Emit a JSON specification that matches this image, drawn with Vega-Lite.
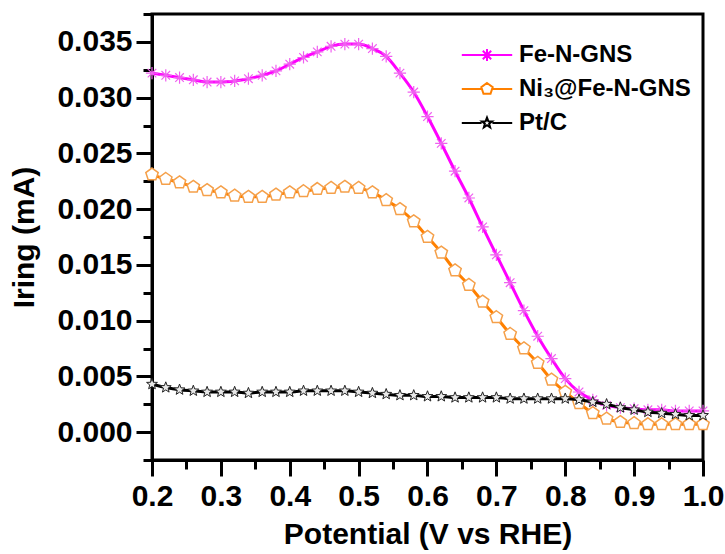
{
  "$schema": "https://vega.github.io/schema/vega-lite/v6.json",
  "autosize": "none",
  "padding": {"left": 152, "top": 14, "right": 22, "bottom": 94},
  "width": 551,
  "height": 446,
  "config": {
    "view": {"stroke": "black", "strokeWidth": 3},
    "axis": {
      "grid": false,
      "domainColor": "black",
      "domainWidth": 3,
      "tickColor": "black",
      "tickWidth": 3,
      "labelFont": "Liberation Sans",
      "labelFontWeight": "bold",
      "labelFontSize": 30,
      "labelColor": "black",
      "titleFont": "Liberation Sans",
      "titleFontWeight": "bold",
      "titleFontSize": 30,
      "titleColor": "black"
    },
    "legend": {
      "labelFont": "Liberation Sans",
      "labelFontWeight": "bold",
      "labelFontSize": 24,
      "labelColor": "black",
      "labelLimit": 400
    }
  },
  "datasets": {
    "d": [
      {"potential":0.20,"current":0.0322,"sample":"Fe-N-GNS"},
      {"potential":0.22,"current":0.0320,"sample":"Fe-N-GNS"},
      {"potential":0.24,"current":0.0318,"sample":"Fe-N-GNS"},
      {"potential":0.26,"current":0.0316,"sample":"Fe-N-GNS"},
      {"potential":0.28,"current":0.0314,"sample":"Fe-N-GNS"},
      {"potential":0.30,"current":0.0314,"sample":"Fe-N-GNS"},
      {"potential":0.32,"current":0.0315,"sample":"Fe-N-GNS"},
      {"potential":0.34,"current":0.0317,"sample":"Fe-N-GNS"},
      {"potential":0.36,"current":0.0320,"sample":"Fe-N-GNS"},
      {"potential":0.38,"current":0.0324,"sample":"Fe-N-GNS"},
      {"potential":0.40,"current":0.0330,"sample":"Fe-N-GNS"},
      {"potential":0.42,"current":0.0336,"sample":"Fe-N-GNS"},
      {"potential":0.44,"current":0.0341,"sample":"Fe-N-GNS"},
      {"potential":0.46,"current":0.0346,"sample":"Fe-N-GNS"},
      {"potential":0.48,"current":0.0348,"sample":"Fe-N-GNS"},
      {"potential":0.50,"current":0.0348,"sample":"Fe-N-GNS"},
      {"potential":0.52,"current":0.0344,"sample":"Fe-N-GNS"},
      {"potential":0.54,"current":0.0337,"sample":"Fe-N-GNS"},
      {"potential":0.56,"current":0.0322,"sample":"Fe-N-GNS"},
      {"potential":0.58,"current":0.0305,"sample":"Fe-N-GNS"},
      {"potential":0.60,"current":0.0283,"sample":"Fe-N-GNS"},
      {"potential":0.62,"current":0.0259,"sample":"Fe-N-GNS"},
      {"potential":0.64,"current":0.0234,"sample":"Fe-N-GNS"},
      {"potential":0.66,"current":0.0210,"sample":"Fe-N-GNS"},
      {"potential":0.68,"current":0.0184,"sample":"Fe-N-GNS"},
      {"potential":0.70,"current":0.0159,"sample":"Fe-N-GNS"},
      {"potential":0.72,"current":0.0134,"sample":"Fe-N-GNS"},
      {"potential":0.74,"current":0.0109,"sample":"Fe-N-GNS"},
      {"potential":0.76,"current":0.0086,"sample":"Fe-N-GNS"},
      {"potential":0.78,"current":0.0066,"sample":"Fe-N-GNS"},
      {"potential":0.80,"current":0.0048,"sample":"Fe-N-GNS"},
      {"potential":0.82,"current":0.0036,"sample":"Fe-N-GNS"},
      {"potential":0.84,"current":0.0029,"sample":"Fe-N-GNS"},
      {"potential":0.86,"current":0.0024,"sample":"Fe-N-GNS"},
      {"potential":0.88,"current":0.0022,"sample":"Fe-N-GNS"},
      {"potential":0.90,"current":0.0021,"sample":"Fe-N-GNS"},
      {"potential":0.92,"current":0.0020,"sample":"Fe-N-GNS"},
      {"potential":0.94,"current":0.0020,"sample":"Fe-N-GNS"},
      {"potential":0.96,"current":0.0019,"sample":"Fe-N-GNS"},
      {"potential":0.98,"current":0.0019,"sample":"Fe-N-GNS"},
      {"potential":1.00,"current":0.0019,"sample":"Fe-N-GNS"},
      {"potential":0.20,"current":0.0231,"sample":"Ni₃@Fe-N-GNS"},
      {"potential":0.22,"current":0.0227,"sample":"Ni₃@Fe-N-GNS"},
      {"potential":0.24,"current":0.0224,"sample":"Ni₃@Fe-N-GNS"},
      {"potential":0.26,"current":0.0220,"sample":"Ni₃@Fe-N-GNS"},
      {"potential":0.28,"current":0.0217,"sample":"Ni₃@Fe-N-GNS"},
      {"potential":0.30,"current":0.0215,"sample":"Ni₃@Fe-N-GNS"},
      {"potential":0.32,"current":0.0212,"sample":"Ni₃@Fe-N-GNS"},
      {"potential":0.34,"current":0.0211,"sample":"Ni₃@Fe-N-GNS"},
      {"potential":0.36,"current":0.0211,"sample":"Ni₃@Fe-N-GNS"},
      {"potential":0.38,"current":0.0213,"sample":"Ni₃@Fe-N-GNS"},
      {"potential":0.40,"current":0.0215,"sample":"Ni₃@Fe-N-GNS"},
      {"potential":0.42,"current":0.0216,"sample":"Ni₃@Fe-N-GNS"},
      {"potential":0.44,"current":0.0218,"sample":"Ni₃@Fe-N-GNS"},
      {"potential":0.46,"current":0.0219,"sample":"Ni₃@Fe-N-GNS"},
      {"potential":0.48,"current":0.0220,"sample":"Ni₃@Fe-N-GNS"},
      {"potential":0.50,"current":0.0219,"sample":"Ni₃@Fe-N-GNS"},
      {"potential":0.52,"current":0.0215,"sample":"Ni₃@Fe-N-GNS"},
      {"potential":0.54,"current":0.0208,"sample":"Ni₃@Fe-N-GNS"},
      {"potential":0.56,"current":0.0200,"sample":"Ni₃@Fe-N-GNS"},
      {"potential":0.58,"current":0.0189,"sample":"Ni₃@Fe-N-GNS"},
      {"potential":0.60,"current":0.0175,"sample":"Ni₃@Fe-N-GNS"},
      {"potential":0.62,"current":0.0161,"sample":"Ni₃@Fe-N-GNS"},
      {"potential":0.64,"current":0.0145,"sample":"Ni₃@Fe-N-GNS"},
      {"potential":0.66,"current":0.0132,"sample":"Ni₃@Fe-N-GNS"},
      {"potential":0.68,"current":0.0117,"sample":"Ni₃@Fe-N-GNS"},
      {"potential":0.70,"current":0.0103,"sample":"Ni₃@Fe-N-GNS"},
      {"potential":0.72,"current":0.0088,"sample":"Ni₃@Fe-N-GNS"},
      {"potential":0.74,"current":0.0075,"sample":"Ni₃@Fe-N-GNS"},
      {"potential":0.76,"current":0.0062,"sample":"Ni₃@Fe-N-GNS"},
      {"potential":0.78,"current":0.0047,"sample":"Ni₃@Fe-N-GNS"},
      {"potential":0.80,"current":0.0036,"sample":"Ni₃@Fe-N-GNS"},
      {"potential":0.82,"current":0.0026,"sample":"Ni₃@Fe-N-GNS"},
      {"potential":0.84,"current":0.0017,"sample":"Ni₃@Fe-N-GNS"},
      {"potential":0.86,"current":0.0012,"sample":"Ni₃@Fe-N-GNS"},
      {"potential":0.88,"current":0.0009,"sample":"Ni₃@Fe-N-GNS"},
      {"potential":0.90,"current":0.0008,"sample":"Ni₃@Fe-N-GNS"},
      {"potential":0.92,"current":0.0007,"sample":"Ni₃@Fe-N-GNS"},
      {"potential":0.94,"current":0.0007,"sample":"Ni₃@Fe-N-GNS"},
      {"potential":0.96,"current":0.0007,"sample":"Ni₃@Fe-N-GNS"},
      {"potential":0.98,"current":0.0007,"sample":"Ni₃@Fe-N-GNS"},
      {"potential":1.00,"current":0.0007,"sample":"Ni₃@Fe-N-GNS"},
      {"potential":0.20,"current":0.0043,"sample":"Pt/C"},
      {"potential":0.22,"current":0.0040,"sample":"Pt/C"},
      {"potential":0.24,"current":0.0038,"sample":"Pt/C"},
      {"potential":0.26,"current":0.0037,"sample":"Pt/C"},
      {"potential":0.28,"current":0.0036,"sample":"Pt/C"},
      {"potential":0.30,"current":0.0036,"sample":"Pt/C"},
      {"potential":0.32,"current":0.0036,"sample":"Pt/C"},
      {"potential":0.34,"current":0.0035,"sample":"Pt/C"},
      {"potential":0.36,"current":0.0036,"sample":"Pt/C"},
      {"potential":0.38,"current":0.0036,"sample":"Pt/C"},
      {"potential":0.40,"current":0.0036,"sample":"Pt/C"},
      {"potential":0.42,"current":0.0037,"sample":"Pt/C"},
      {"potential":0.44,"current":0.0037,"sample":"Pt/C"},
      {"potential":0.46,"current":0.0037,"sample":"Pt/C"},
      {"potential":0.48,"current":0.0037,"sample":"Pt/C"},
      {"potential":0.50,"current":0.0036,"sample":"Pt/C"},
      {"potential":0.52,"current":0.0035,"sample":"Pt/C"},
      {"potential":0.54,"current":0.0034,"sample":"Pt/C"},
      {"potential":0.56,"current":0.0033,"sample":"Pt/C"},
      {"potential":0.58,"current":0.0033,"sample":"Pt/C"},
      {"potential":0.60,"current":0.0032,"sample":"Pt/C"},
      {"potential":0.62,"current":0.0032,"sample":"Pt/C"},
      {"potential":0.64,"current":0.0031,"sample":"Pt/C"},
      {"potential":0.66,"current":0.0031,"sample":"Pt/C"},
      {"potential":0.68,"current":0.0031,"sample":"Pt/C"},
      {"potential":0.70,"current":0.0031,"sample":"Pt/C"},
      {"potential":0.72,"current":0.0030,"sample":"Pt/C"},
      {"potential":0.74,"current":0.0030,"sample":"Pt/C"},
      {"potential":0.76,"current":0.0030,"sample":"Pt/C"},
      {"potential":0.78,"current":0.0030,"sample":"Pt/C"},
      {"potential":0.80,"current":0.0030,"sample":"Pt/C"},
      {"potential":0.82,"current":0.0029,"sample":"Pt/C"},
      {"potential":0.84,"current":0.0027,"sample":"Pt/C"},
      {"potential":0.86,"current":0.0025,"sample":"Pt/C"},
      {"potential":0.88,"current":0.0022,"sample":"Pt/C"},
      {"potential":0.90,"current":0.0020,"sample":"Pt/C"},
      {"potential":0.92,"current":0.0018,"sample":"Pt/C"},
      {"potential":0.94,"current":0.0017,"sample":"Pt/C"},
      {"potential":0.96,"current":0.0016,"sample":"Pt/C"},
      {"potential":0.98,"current":0.0015,"sample":"Pt/C"},
      {"potential":1.00,"current":0.0015,"sample":"Pt/C"}
    ]
  },
  "data": {"name": "d"},
  "encoding": {
    "x": {
      "field": "potential", "type": "quantitative",
      "scale": {"domain": [0.2, 1.0], "nice": false, "zero": false},
      "axis": {
        "title": "Potential (V vs RHE)",
        "values": [0.2,0.25,0.3,0.35,0.4,0.45,0.5,0.55,0.6,0.65,0.7,0.75,0.8,0.85,0.9,0.95,1.0],
        "labelExpr": "abs(datum.value*10 - round(datum.value*10)) < 0.001 ? format(datum.value, '.1f') : ''",
        "tickSize": {"condition": {"test": "abs(datum.value*10 - round(datum.value*10)) < 0.001", "value": 16}, "value": 9},
        "labelPadding": 5,
        "titlePadding": 8,
        "labelFlush": false,
        "labelOverlap": false
      }
    },
    "y": {
      "field": "current", "type": "quantitative",
      "scale": {"domain": [-0.0025, 0.0375], "nice": false, "zero": false},
      "axis": {
        "title": "Iring (mA)",
        "values": [-0.0025,0,0.0025,0.005,0.0075,0.01,0.0125,0.015,0.0175,0.02,0.0225,0.025,0.0275,0.03,0.0325,0.035,0.0375],
        "labelExpr": "(abs(datum.value*200 - round(datum.value*200)) < 0.001 && datum.value > -0.001 && datum.value < 0.036) ? format(datum.value, '.3f') : ''",
        "tickSize": {"condition": {"test": "abs(datum.value*200 - round(datum.value*200)) < 0.001", "value": 16}, "value": 9},
        "labelPadding": 4,
        "titlePadding": 17,
        "labelFlush": false,
        "labelOverlap": false
      }
    }
  },
  "layer": [
    {
      "transform": [{"filter": "datum.sample === 'Fe-N-GNS'"}],
      "mark": {"type": "line", "strokeWidth": 3, "interpolate": "monotone"},
      "encoding": {
        "color": {
          "field": "sample", "type": "nominal",
          "scale": {"domain": ["Fe-N-GNS", "Ni₃@Fe-N-GNS", "Pt/C"], "range": ["#FF00FF", "#FF8000", "#000000"]},
          "legend": {
            "title": null,
            "orient": "none",
            "legendX": 323,
            "legendY": 29,
            "padding": 0,
            "rowPadding": 10,
            "symbolSize": 144,
            "symbolStrokeWidth": 2,
            "labelOffset": 20,
            "encode": {
              "symbols": {
                "update": {
                  "shape": {"signal": "datum.value === 'Fe-N-GNS' ? 'M-4.2,0L4.2,0M-1,0L1,0M0,-1L0,1M-0.7,-0.7L0.7,0.7M-0.7,0.7L0.7,-0.7' : datum.value === 'Pt/C' ? 'M-4.2,0L-0.9,0M0.9,0L4.2,0M0,-0.9L0.222,-0.306L0.856,-0.278L0.359,0.117L0.529,0.728L0,0.378L-0.529,0.728L-0.359,0.117L-0.856,-0.278L-0.222,-0.306Z' : 'M-4.2,0L-1,0M1,0L4.2,0M0,-1L0.951,-0.309L0.588,0.809L-0.588,0.809L-0.951,-0.309Z'"},
                  "fill": {"value": "white"},
                  "strokeWidth": {"value": 2}
                }
              }
            }
          }
        }
      }
    },
    {
      "transform": [{"filter": "datum.sample === 'Fe-N-GNS'"}],
      "mark": {"type": "point", "shape": "M-1,0L1,0M0,-1L0,1M-0.7,-0.7L0.7,0.7M-0.7,0.7L0.7,-0.7", "filled": false, "stroke": "#F060F0", "strokeWidth": 1.2, "size": 150, "opacity": 1},
      "encoding": {}
    },
    {
      "transform": [{"filter": "datum.sample === 'Ni₃@Fe-N-GNS'"}],
      "mark": {"type": "line", "strokeWidth": 3, "interpolate": "monotone"},
      "encoding": {"color": {"field": "sample", "type": "nominal"}}
    },
    {
      "transform": [{"filter": "datum.sample === 'Ni₃@Fe-N-GNS'"}],
      "mark": {"type": "point", "shape": "M0,-1L0.951,-0.309L0.588,0.809L-0.588,0.809L-0.951,-0.309Z", "filled": true, "fill": "white", "stroke": "#F5A04A", "strokeWidth": 1.5, "size": 170, "opacity": 1},
      "encoding": {}
    },
    {
      "transform": [{"filter": "datum.sample === 'Pt/C'"}],
      "mark": {"type": "line", "strokeWidth": 3, "interpolate": "monotone"},
      "encoding": {"color": {"field": "sample", "type": "nominal"}}
    },
    {
      "transform": [{"filter": "datum.sample === 'Pt/C'"}],
      "mark": {"type": "point", "shape": "M0,-1L0.247,-0.34L0.951,-0.309L0.399,0.13L0.588,0.809L0,0.42L-0.588,0.809L-0.399,0.13L-0.951,-0.309L-0.247,-0.34Z", "filled": true, "fill": "#E8E8E8", "stroke": "#222222", "strokeWidth": 1, "size": 130, "opacity": 1},
      "encoding": {}
    }
  ]
}
